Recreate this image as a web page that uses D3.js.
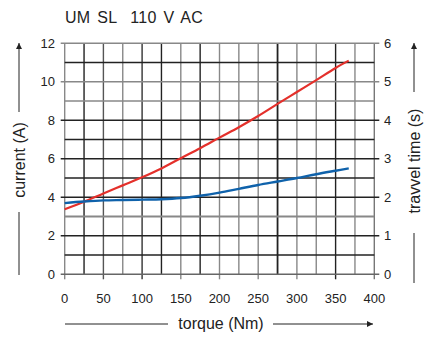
<!DOCTYPE html>
<html>
<head>
<meta charset="utf-8">
<script src="https://cdn.jsdelivr.net/npm/d3@7"></script>
<style>
  body { margin: 0; background: #fff; }
  text { font-family: "Liberation Sans", Arial, sans-serif; fill: #222; }
</style>
</head>
<body>
<div id="container"></div>
<script>
/* DATA */
const torque = [0, 25, 50, 75, 100, 125, 150, 175, 200, 225, 250, 275, 300, 325, 350, 367];
const currentA = [3.38, 3.77, 4.2, 4.62, 5.04, 5.5, 6.03, 6.55, 7.1, 7.64, 8.22, 8.85, 9.47, 10.09, 10.72, 11.1];
const travelS = [1.85, 1.89, 1.92, 1.93, 1.94, 1.95, 1.98, 2.04, 2.12, 2.22, 2.32, 2.41, 2.5, 2.6, 2.69, 2.75];
const xTicks = [0, 50, 100, 150, 200, 250, 300, 350, 400];
const leftTicks = [0, 2, 4, 6, 8, 10, 12];
const rightTicks = [0, 1, 2, 3, 4, 5, 6];
const xGrid = d3.range(0, 401, 25);
const yGrid = d3.range(0, 13, 1);

/* STYLE: tone of each grid line (scanned look) */
const xTone = ["#888", "#222", "#555", "#888", "#333", "#222", "#888", "#222", "#888", "#888", "#888", "#222", "#888", "#888", "#222", "#888", "#777"];
const yTone = ["#666", "#222", "#222", "#888", "#222", "#222", "#222", "#222", "#222", "#888", "#888", "#222", "#888"];

const width = 426, height = 338;

const svg = d3.select("#container")
  .append("svg")
  .attr("width", width)
  .attr("height", height);

const x = d3.scaleLinear().domain([0, 400]).range([64.7, 374.3]);
const yA = d3.scaleLinear().domain([0, 12]).range([274.3, 43.3]);
const yS = d3.scaleLinear().domain([0, 6]).range([274.3, 43.3]);

/* grid */
svg.selectAll("line.vgrid")
  .data(xGrid)
  .join("line")
  .attr("class", "vgrid")
  .attr("x1", d => x(d)).attr("x2", d => x(d))
  .attr("y1", yA(12)).attr("y2", d => d % 50 === 0 ? yA(0) + 5 : yA(0))
  .attr("stroke", (d, i) => xTone[i])
  .attr("stroke-width", d => d === 275 ? 1.8 : 1.4);

svg.selectAll("line.hgrid")
  .data(yGrid)
  .join("line")
  .attr("class", "hgrid")
  .attr("y1", d => yA(d)).attr("y2", d => yA(d))
  .attr("x1", d => d % 2 === 0 ? x(0) - 4 : x(0))
  .attr("x2", d => d % 2 === 0 ? x(400) + 5 : x(400))
  .attr("stroke", (d, i) => yTone[i])
  .attr("stroke-width", d => d === 3 ? 2 : 1.4);

/* tick labels */
svg.selectAll("text.xt")
  .data(xTicks)
  .join("text")
  .attr("class", "xt")
  .attr("x", d => x(d))
  .attr("y", 303)
  .attr("text-anchor", "middle")
  .attr("font-size", 13)
  .text(d => d);

svg.selectAll("text.lt")
  .data(leftTicks)
  .join("text")
  .attr("class", "lt")
  .attr("x", 55)
  .attr("y", d => yA(d) + 4.5)
  .attr("text-anchor", "end")
  .attr("font-size", 13)
  .text(d => d);

svg.selectAll("text.rt")
  .data(rightTicks)
  .join("text")
  .attr("class", "rt")
  .attr("x", 384)
  .attr("y", d => yS(d) + 4.5)
  .attr("text-anchor", "start")
  .attr("font-size", 13)
  .text(d => d);

/* lines */
const red = d3.line().x((d, i) => x(torque[i])).y(d => yA(d)).curve(d3.curveCatmullRom);
const blue = d3.line().x((d, i) => x(torque[i])).y(d => yS(d)).curve(d3.curveCatmullRom);

svg.append("path")
  .attr("d", red(currentA))
  .attr("fill", "none")
  .attr("stroke", "#e4302b")
  .attr("stroke-width", 2.2);

svg.append("path")
  .attr("d", blue(travelS))
  .attr("fill", "none")
  .attr("stroke", "#0f62ab")
  .attr("stroke-width", 2.4);

/* title */
svg.append("text")
  .attr("x", 65)
  .attr("y", 23)
  .attr("font-size", 16)
  .attr("xml:space", "preserve")
  .style("white-space", "pre")
  .style("letter-spacing", "0.3px")
  .style("word-spacing", "2px")
  .text("UM SL  110 V AC");

/* arrow marker */
svg.append("defs").append("marker")
  .attr("id", "arr")
  .attr("viewBox", "0 0 10 10")
  .attr("refX", 10).attr("refY", 5)
  .attr("markerWidth", 6).attr("markerHeight", 6)
  .attr("markerUnits", "userSpaceOnUse")
  .attr("orient", "auto")
  .append("path")
  .attr("d", "M0,0L10,5L0,10Z")
  .attr("fill", "#222");

function axisLine(x1, y1, x2, y2, arrow) {
  const l = svg.append("line")
    .attr("x1", x1).attr("y1", y1).attr("x2", x2).attr("y2", y2)
    .attr("stroke", "#222").attr("stroke-width", 1);
  if (arrow) l.attr("marker-end", "url(#arr)");
}

/* left label */
svg.append("text")
  .attr("transform", "translate(25,160) rotate(-90)")
  .attr("text-anchor", "middle")
  .attr("font-size", 16)
  .text("current (A)");
axisLine(19, 112, 19, 43, true);
axisLine(19, 212, 19, 275, false);

/* right label */
svg.append("text")
  .attr("transform", "translate(420,161) rotate(-90)")
  .attr("text-anchor", "middle")
  .attr("font-size", 16)
  .text("travvel time (s)");
axisLine(414, 92, 414, 43, true);
axisLine(414, 233, 414, 283, false);

/* bottom label */
svg.append("text")
  .attr("x", 221)
  .attr("y", 329)
  .attr("text-anchor", "middle")
  .attr("font-size", 16)
  .text("torque (Nm)");
axisLine(65, 324, 168, 324, false);
axisLine(273, 324, 373, 324, true);
</script>
</body>
</html>
